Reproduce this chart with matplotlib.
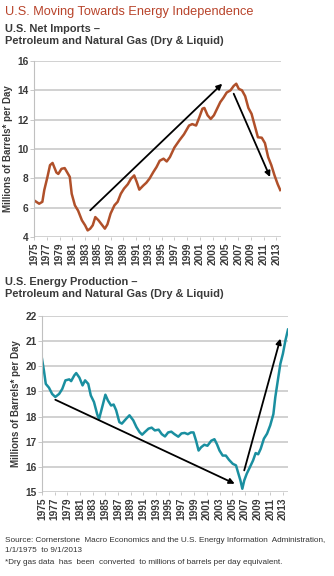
import matplotlib
matplotlib.use("Agg")
import matplotlib.pyplot as plt

# ---------------- data ----------------
imp_years = [1975.0, 1975.8, 1976.3, 1976.6, 1977.1, 1977.5, 1977.9, 1978.5, 1978.8, 1979.3,
             1979.8, 1980.2, 1980.6, 1980.9, 1981.4, 1981.9, 1982.5, 1983.0, 1983.4, 1983.8,
             1984.2, 1984.6, 1985.1, 1985.7, 1986.1, 1986.5, 1987.0, 1987.6, 1988.1, 1988.6,
             1989.1, 1989.7, 1990.2, 1990.7, 1991.1, 1991.5, 1992.1, 1992.6, 1993.1, 1993.7,
             1994.2, 1994.7, 1995.3, 1995.8, 1996.3, 1997.0, 1997.8, 1998.5, 1999.3, 1999.8,
             2000.4, 2000.9, 2001.4, 2001.7, 2002.2, 2002.7, 2003.2, 2003.7, 2004.2, 2004.7,
             2005.2, 2005.8, 2006.3, 2006.7, 2007.1, 2007.6, 2008.1, 2008.6, 2009.1, 2009.6,
             2010.1, 2010.7, 2011.2, 2011.7, 2012.2, 2012.7, 2013.2, 2013.6]
imp_values = [6.5, 6.27, 6.4, 7.2, 8.1, 8.9, 9.05, 8.4, 8.3, 8.65,
              8.7, 8.4, 8.1, 6.95, 6.16, 5.8, 5.14, 4.8, 4.45, 4.57,
              4.8, 5.36, 5.14, 4.8, 4.57, 4.86, 5.6, 6.16, 6.4, 6.95,
              7.3, 7.6, 7.98, 8.2, 7.75, 7.23, 7.5, 7.7, 7.98, 8.43,
              8.77, 9.2, 9.34, 9.15, 9.45, 10.1, 10.6, 11.0, 11.6, 11.7,
              11.6, 12.15, 12.75, 12.8, 12.3, 12.05, 12.3, 12.75, 13.2, 13.5,
              13.85, 14.0, 14.3, 14.45, 14.1, 14.0, 13.6, 12.8, 12.4, 11.6,
              10.8, 10.77, 10.4, 9.45, 8.9, 8.2, 7.6, 7.2]

prod_years = [1975.0, 1975.3, 1975.6, 1976.1, 1976.6, 1977.1, 1977.7, 1978.2, 1978.7, 1979.3,
              1979.6, 1980.1, 1980.4, 1980.9, 1981.4, 1981.8, 1982.3, 1982.7, 1983.2, 1983.7,
              1984.0, 1984.5, 1985.0, 1985.4, 1985.9, 1986.3, 1986.7, 1987.2, 1987.6, 1988.3,
              1988.8, 1989.4, 1989.9, 1990.4, 1990.8, 1991.2, 1991.8, 1992.3, 1992.8, 1993.4,
              1993.9, 1994.4, 1994.9, 1995.4, 1995.9, 1996.5, 1997.0, 1997.5, 1998.0, 1998.5,
              1998.9, 1999.3, 1999.7, 2000.1, 2000.6, 2001.1, 2001.7, 2002.2, 2002.6, 2003.0,
              2003.5, 2004.0, 2004.5, 2005.1, 2005.6, 2005.9, 2006.3, 2006.6, 2006.9, 2007.3,
              2007.8, 2008.3, 2008.7, 2009.1, 2009.5, 2010.0, 2010.5, 2011.0, 2011.5, 2011.8,
              2012.2, 2012.6, 2013.0, 2013.4, 2013.8]
prod_values = [20.3, 19.84, 19.3, 19.15, 18.9, 18.78, 18.9, 19.1, 19.44, 19.48,
               19.41, 19.64, 19.73, 19.55, 19.24, 19.44, 19.3, 18.84, 18.58, 18.1,
               17.9, 18.38, 18.87, 18.64, 18.44, 18.48, 18.25, 17.78, 17.72, 17.92,
               18.05, 17.85, 17.58, 17.38, 17.28, 17.38, 17.52, 17.56, 17.45, 17.48,
               17.3, 17.21, 17.37, 17.4, 17.3, 17.2, 17.33, 17.35, 17.3, 17.37,
               17.37, 17.04, 16.65, 16.78, 16.88, 16.84, 17.04, 17.1, 16.9, 16.65,
               16.45, 16.45, 16.28, 16.12, 16.06, 15.8, 15.46, 15.13, 15.46, 15.73,
               15.99, 16.26, 16.55, 16.5, 16.72, 17.12, 17.32, 17.65, 18.1, 18.77,
               19.44, 20.1, 20.5, 21.03, 21.46]

# trend arrows: (start_year, start_value, end_year, end_value)
imp_arrows = [(1983.8, 5.82, 2004.5, 14.45), (2006.3, 13.77, 2012.0, 8.09)]
prod_arrows = [(1977.1, 18.67, 2005.4, 15.33), (2006.9, 15.86, 2012.6, 21.1)]

year_ticks = list(range(1975, 2014, 2))
imp_yticks = [4, 6, 8, 10, 12, 14, 16]
prod_yticks = [15, 16, 17, 18, 19, 20, 21, 22]

title = "U.S. Moving Towards Energy Independence"
sub1 = "U.S. Net Imports \u2013\nPetroleum and Natural Gas (Dry & Liquid)"
sub2 = "U.S. Energy Production \u2013\nPetroleum and Natural Gas (Dry & Liquid)"
ylabel = "Millions of Barrels* per Day"
foot1 = "Source: Cornerstone  Macro Economics and the U.S. Energy Information  Administration,"
foot2 = "1/1/1975  to 9/1/2013"
foot3 = "*Dry gas data  has  been  converted  to millions of barrels per day equivalent."

# ---------------- style ----------------
FAM = ["Liberation Sans Narrow", "Liberation Sans", "DejaVu Sans"]
plt.rcParams["font.family"] = FAM
RUST = "#B0502A"
TEAL = "#1A8FA0"
TXT = "#3a3a3a"

fig = plt.figure(figsize=(3.34, 5.76), dpi=100)

def style_axes(ax, yticks, xlim):
    ax.set_xlim(*xlim)
    ax.set_ylim(yticks[0], yticks[-1])
    ax.set_yticks(yticks)
    ax.set_xticks(year_ticks)
    ax.set_xticklabels([str(y) for y in year_ticks], rotation=90)
    for lab in ax.get_xticklabels() + ax.get_yticklabels():
        lab.set_fontsize(7.3)
        lab.set_fontweight("bold")
        lab.set_color(TXT)
    ax.grid(axis="y", color="#c9c9c9", linewidth=1.2)
    ax.set_axisbelow(True)
    for s in ["top", "right", "bottom"]:
        ax.spines[s].set_visible(False)
    ax.spines["left"].set_color("#c0c0c0")
    ax.spines["left"].set_linewidth(0.8)
    ax.tick_params(axis="y", length=3, width=0.6, color="#c0c0c0", pad=1)
    ax.tick_params(axis="x", length=2, width=0.6, color="#c0c0c0", pad=2)
    ax.set_ylabel(ylabel, fontsize=7, fontweight="bold", color=TXT, labelpad=3)

# top chart
ax1 = fig.add_axes([0.102, 0.5885, 0.739, 0.3056])
ax1.plot(imp_years, imp_values, color=RUST, linewidth=1.8, solid_joinstyle="round")
style_axes(ax1, imp_yticks, (1975, 2013.7))
for x0, y0, x1, y1 in imp_arrows:
    ax1.annotate("", xy=(x1, y1), xytext=(x0, y0),
                 arrowprops=dict(arrowstyle="-|>", color="black", lw=1.3,
                                 mutation_scale=8, shrinkA=0, shrinkB=0))

# bottom chart
ax2 = fig.add_axes([0.1257, 0.1458, 0.7365, 0.3056])
ax2.plot(prod_years, prod_values, color=TEAL, linewidth=1.8, solid_joinstyle="round")
style_axes(ax2, prod_yticks, (1975, 2013.8))
for x0, y0, x1, y1 in prod_arrows:
    ax2.annotate("", xy=(x1, y1), xytext=(x0, y0),
                 arrowprops=dict(arrowstyle="-|>", color="black", lw=1.3,
                                 mutation_scale=8, shrinkA=0, shrinkB=0))

# texts
fig.text(5 / 334, 1 - 12 / 576, title, fontsize=9.2, color="#B8432A",
         family=["Liberation Sans", "DejaVu Sans"], va="center", ha="left")
fig.text(5 / 334, 1 - 35 / 576, sub1, fontsize=7.9, color=TXT, fontweight="bold",
         va="center", ha="left", linespacing=1.2)
fig.text(5 / 334, 1 - 288 / 576, sub2, fontsize=7.9, color=TXT, fontweight="bold",
         va="center", ha="left", linespacing=1.2)
fig.text(5 / 334, 1 - 540 / 576, foot1, fontsize=5.9, color="#333333",
         family=["Liberation Sans", "DejaVu Sans"], va="center", ha="left")
fig.text(5 / 334, 1 - 551 / 576, foot2, fontsize=5.9, color="#333333",
         family=["Liberation Sans", "DejaVu Sans"], va="center", ha="left")
fig.text(5 / 334, 1 - 562 / 576, foot3, fontsize=5.9, color="#333333",
         family=["Liberation Sans", "DejaVu Sans"], va="center", ha="left")

fig.savefig("out.png", dpi=100)
